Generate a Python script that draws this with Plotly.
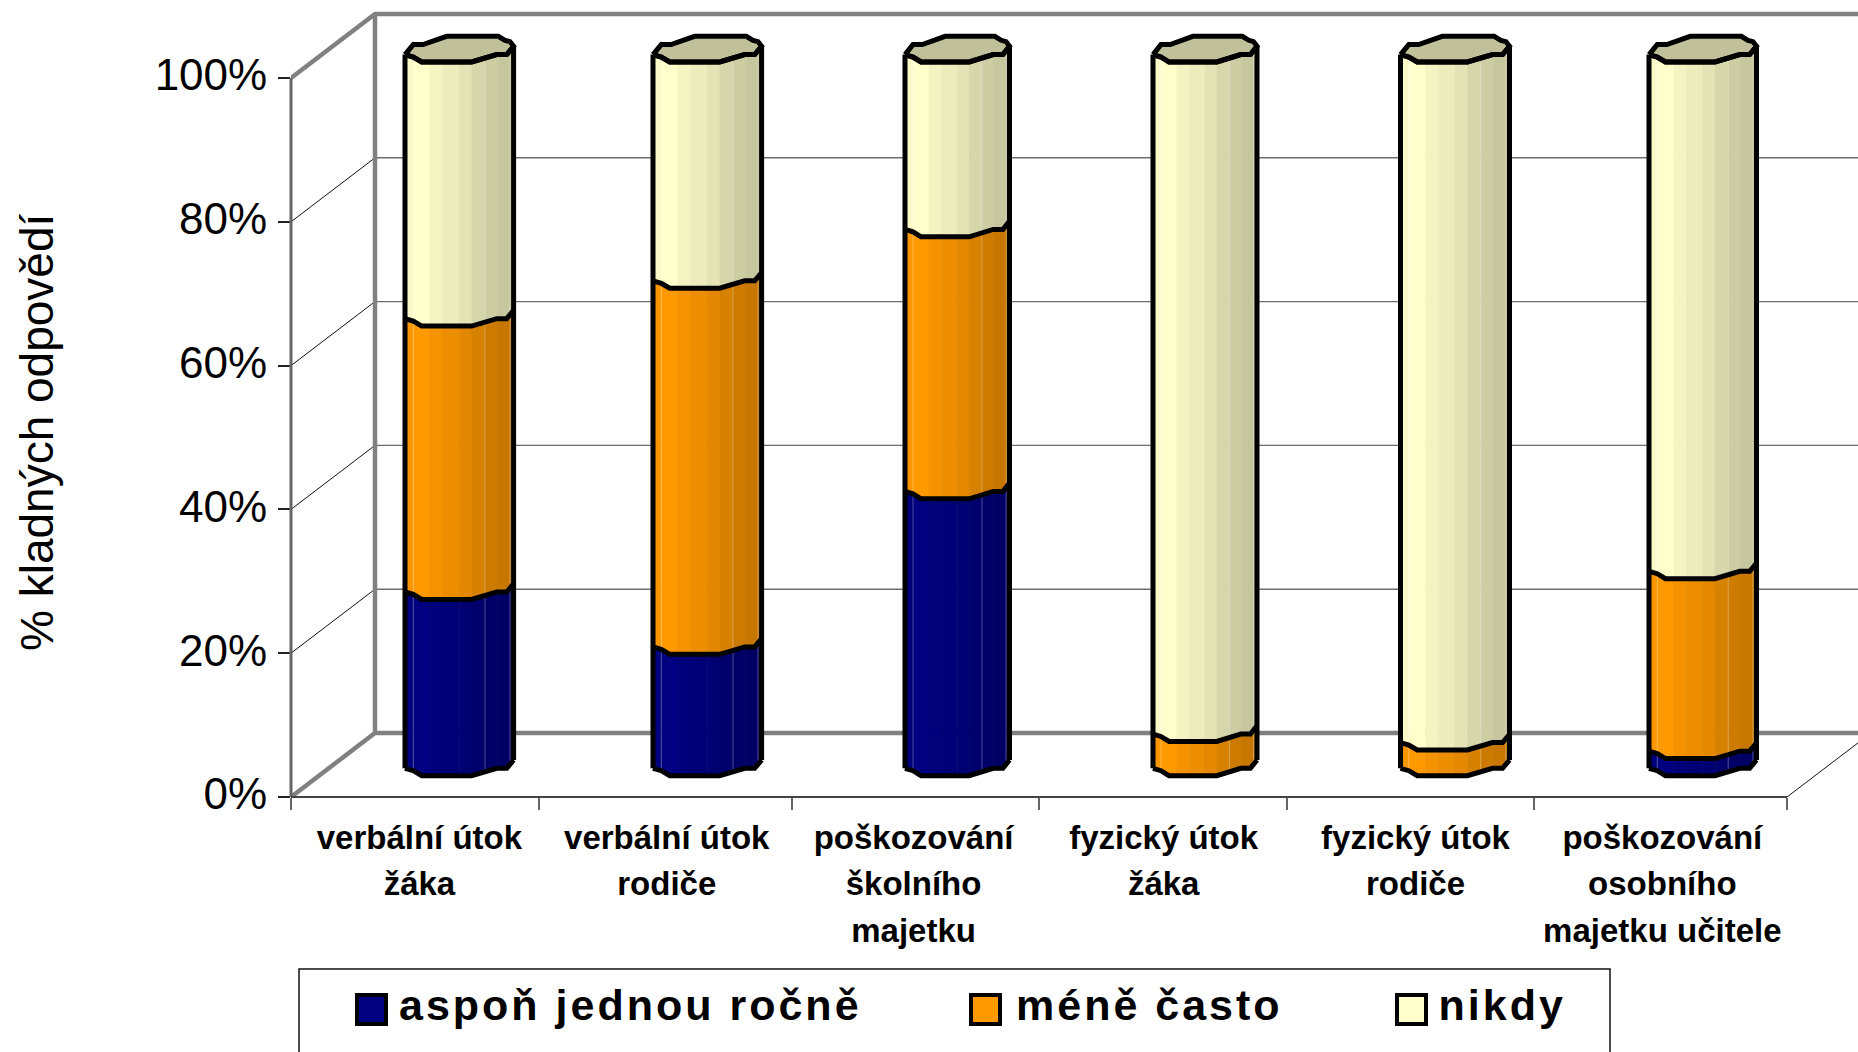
import plotly.graph_objects as go

# ---------- data ----------
categories = ["verbální útok<br>žáka", "verbální útok<br>rodiče", "poškozování<br>školního<br>majetku",
              "fyzický útok<br>žáka", "fyzický útok<br>rodiče", "poškozování<br>osobního<br>majetku učitele"]
series_names = ["aspoň jednou ročně", "méně často", "nikdy"]
aspon_jednou_rocne = [24.7, 17.0, 38.8, 0.0, 0.0, 2.4]
mene_casto = [38.3, 51.3, 36.7, 4.8, 3.6, 25.2]
nikdy = [37.0, 31.7, 24.5, 95.2, 96.4, 72.4]
y_ticks = [0, 20, 40, 60, 80, 100]

# ---------- plot frame (pixels of the page) ----------
W, H = 1858, 1052
L, R, T, B = 291, 1787, 78, 797
UX = (R - L) / 6.0      # px per category
UY = (B - T) / 100.0    # px per percent
DEPTH_X, DEPTH_Y = 84 / UX, 64 / UY
X_MAX = (W - L) / UX
Y_MAX = B / UY

bar_left_px = [405, 653, 905, 1153, 1400.5, 1649]
bar_width_px = [108.6, 108.6, 104.5, 104, 109, 107.5]
base_pct = (B - 775.7) / UY
scale = 713.7 / 719.0

prof_x = [0, 8.3, 16.7, 66.7, 91.7, 101.7, 108.6]
prof_up = [7.4, 5, 0, 0, 7.4, 7.4, 15.7]
back_x = [0, 8.3, 18, 41.7, 93.3, 100, 105, 108.6]
back_up = [7.4, 17.4, 17.4, 25.7, 25.7, 21.7, 20.4, 15.7]
strips = [0, 8.3, 25, 38, 54.3, 67, 80, 92.3, 105, 108.6]
shades = [0.98, 1.0, 0.955, 0.925, 0.89, 0.84, 0.805, 0.78, 0.74]
bases = [(0, 0, 128), (255, 153, 0), (255, 255, 204)]


def interp(x, xs, ys):
    for a, b, c, d in zip(xs[:-1], xs[1:], ys[:-1], ys[1:]):
        if x <= b:
            return c + (d - c) * (x - a) / (b - a)
    return ys[-1]


def X(i, off):
    return (bar_left_px[i] + off * bar_width_px[i] / 108.6 - L) / UX


def Y(pct, off, prof=(prof_x, prof_up)):
    return base_pct + pct * scale + interp(off, *prof) / UY


fig = go.Figure()


def line(xs, ys, color, width):
    fig.add_trace(go.Scatter(x=xs, y=ys, mode="lines", line=dict(color=color, width=width),
                             hoverinfo="skip", showlegend=False))


# walls
RX = 6 + DEPTH_X
for v in y_ticks[1:-1]:
    line([0, DEPTH_X], [v, v + DEPTH_Y], "#111111", 1)
    line([DEPTH_X, RX], [v + DEPTH_Y, v + DEPTH_Y], "#6e6e6e", 1.4)
line([6, RX], [0, DEPTH_Y], "#111111", 1)
line([DEPTH_X, DEPTH_X], [DEPTH_Y, 100 + DEPTH_Y], "#808080", 4.5)
line([0, DEPTH_X, RX], [100, 100 + DEPTH_Y, 100 + DEPTH_Y], "#808080", 4.5)
line([0, DEPTH_X, RX], [0, DEPTH_Y, DEPTH_Y], "#808080", 4.5)

# cylinder strips
values = [aspon_jednou_rocne, mene_casto, nikdy]
for s, vals in enumerate(values):
    r, g, b = bases[s]
    for k, f in enumerate(shades):
        xs, ys = [], []
        a, c = strips[k], strips[k + 1]
        pts = sorted({a, c, *[p for p in prof_x if a < p < c]})
        for i in range(6):
            if vals[i] <= 0:
                continue
            lo = sum(v[i] for v in values[:s])
            hi = lo + vals[i]
            xs += [X(i, p) for p in pts] + [X(i, p) for p in reversed(pts)] + [X(i, pts[0]), None]
            ys += [Y(hi, p) for p in pts] + [Y(lo, p) for p in reversed(pts)] + [Y(hi, pts[0]), None]
        col = f"rgb({r*f:.0f},{g*f:.0f},{b*f:.0f})"
        fig.add_trace(go.Scatter(x=xs, y=ys, mode="lines", fill="toself", fillcolor=col,
                                 line=dict(color=col, width=0.7), name=series_names[s],
                                 hoverinfo="skip", showlegend=False))

# faint facet highlights, outlines and caps
hx, hy = [], []
ox, oy = [], []
cx, cy = [], []
all_pts = sorted(set(prof_x))
for i in range(6):
    for off in (8.3, 80, 105):
        hx += [X(i, off), X(i, off), None]
        hy += [Y(0, off), Y(100, off), None]
    ox += [X(i, 0), X(i, 0), None, X(i, prof_x[-1]), X(i, prof_x[-1]), None]
    oy += [Y(0, 0), Y(100, 0), None, Y(0, prof_x[-1]), Y(100, prof_x[-1]), None]
    levels = [0] + [sum(v[i] for v in values[:n + 1]) for n in range(3)]
    for lev, prev in zip(levels, [None] + levels):
        if prev is not None and lev == prev:
            continue
        ox += [X(i, p) for p in all_pts] + [None]
        oy += [Y(lev, p) for p in all_pts] + [None]
    cx += [X(i, p) for p in prof_x] + [X(i, p) for p in reversed(back_x)] + [None]
    cy += [Y(100, p) for p in prof_x] + [Y(100, p, (back_x, back_up)) for p in reversed(back_x)] + [None]
line(hx, hy, "rgba(255,255,255,0.3)", 1)
fig.add_trace(go.Scatter(x=cx, y=cy, mode="lines", fill="toself", fillcolor="#c0c09a",
                         line=dict(color="#000000", width=5), hoverinfo="skip", showlegend=False))
line(ox, oy, "#000000", 5)


def px(x):
    return (x - L) / (W - L)


def py(y):
    return (B - y) / B


# front axis lines, legend box, swatches and labels
shapes = [
    dict(type="line", xref="paper", yref="paper", x0=px(L), x1=px(L), y0=py(B), y1=py(T),
         line=dict(color="#666666", width=3)),
    dict(type="line", xref="paper", yref="paper", x0=px(L), x1=px(R), y0=py(B), y1=py(B),
         line=dict(color="#444444", width=2)),
    dict(type="rect", xref="paper", yref="paper", x0=px(299), x1=px(1610), y0=py(1060), y1=py(969),
         line=dict(color="#111111", width=1.5), fillcolor="white"),
]
annotations = []
swatch_left = [357, 971, 1397]
text_left = [424, 1029, 1444]
for s, name in enumerate(series_names):
    shapes.append(dict(type="rect", xref="paper", yref="paper", x0=px(swatch_left[s]), x1=px(swatch_left[s] + 29),
                       y0=py(1024), y1=py(995), line=dict(color="#000000", width=4),
                       fillcolor="rgb(%d,%d,%d)" % bases[s]))
    annotations.append(dict(xref="paper", yref="paper", x=px(text_left[s]), y=py(1005), text=name, showarrow=False,
                            xanchor="left", yanchor="middle",
                            font=dict(family="Liberation Sans", size=43, color="black", weight=700)))
annotations.append(dict(xref="paper", yref="paper", x=px(37), y=py(432), text="% kladných odpovědí", showarrow=False,
                        textangle=-90, xanchor="center", yanchor="middle",
                        font=dict(family="Liberation Sans", size=46, color="black")))

tick_pos = [0.515, 1.507, 2.497, 3.5, 4.51, 5.5]
boundaries = [0, 0.995, 2.008, 3.0, 3.995, 4.985, 6]

fig.update_layout(
    width=W, height=H, autosize=False,
    margin=dict(l=L, r=0, t=0, b=H - B),
    paper_bgcolor="white", plot_bgcolor="rgba(0,0,0,0)",
    showlegend=False, shapes=shapes, annotations=annotations,
    xaxis=dict(range=[0, X_MAX], showgrid=False, zeroline=False, showline=False,
               tickmode="array", tickvals=tick_pos, ticktext=categories,
               ticks="outside", ticklen=11, tickcolor="rgba(0,0,0,0)", tickangle=0,
               tickfont=dict(family="Liberation Sans", size=33, color="black", weight=700),
               minor=dict(tickmode="array", tickvals=boundaries, ticks="outside", ticklen=12, tickcolor="#666666",
                          tickwidth=2, showgrid=False)),
    yaxis=dict(range=[0, Y_MAX], showgrid=False, zeroline=False, showline=False,
               tickmode="array", tickvals=y_ticks, ticktext=[f"{v}%" for v in y_ticks],
               ticks="outside", ticklen=12, tickcolor="#222222", tickwidth=1.5, ticklabelshift=-3, ticklabelstandoff=2,
               tickfont=dict(family="Liberation Sans", size=44, color="black")),
)

post = """
document.body.style.margin='0';document.documentElement.style.overflow='hidden';
var st=document.createElement('style');
st.textContent='.annotation-text{letter-spacing:3px}.annotation[data-index="3"] .annotation-text{letter-spacing:0}';
document.head.appendChild(st);
document.querySelectorAll('.xtick tspan.line').forEach(function(t){
  var d=parseFloat(t.getAttribute('dy')||'0'); if(d>0){t.setAttribute('dy',(d*1.42/1.3)+'em');}
});
"""
fig.write_html("out.html", post_script=post, config={"displayModeBar": False})
